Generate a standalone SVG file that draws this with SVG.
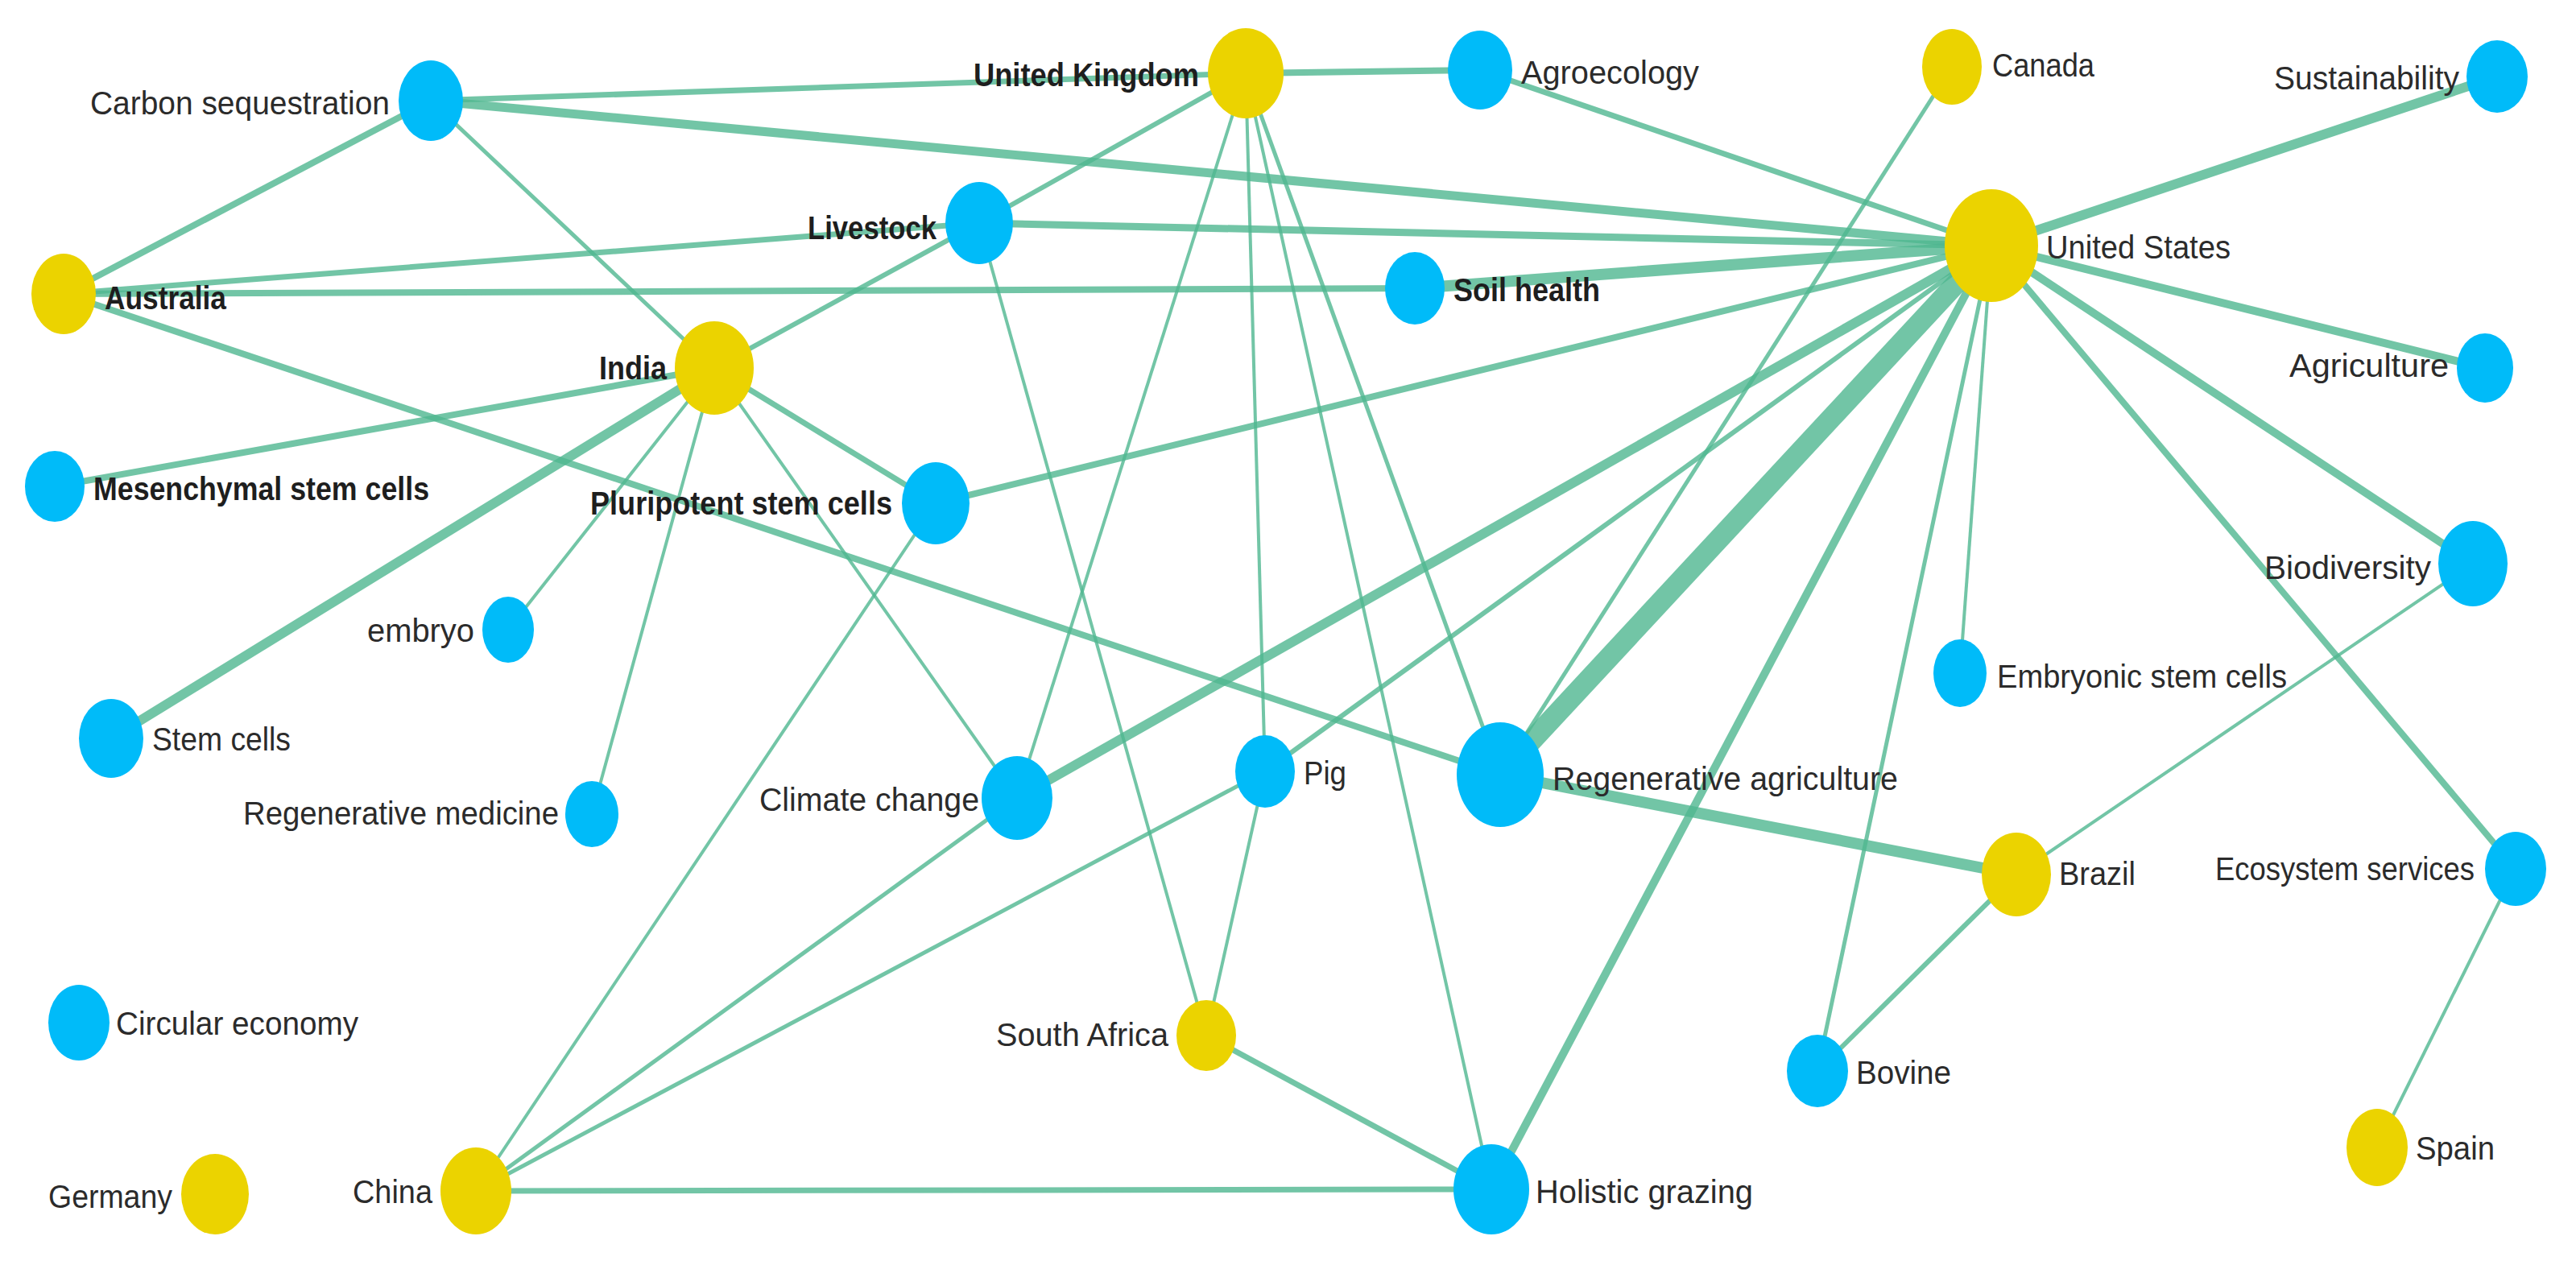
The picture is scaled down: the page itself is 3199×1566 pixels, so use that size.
<svg xmlns="http://www.w3.org/2000/svg" width="3199" height="1566" viewBox="0 0 3199 1566">
<style>
.e{stroke:#4fb690;stroke-opacity:0.8;stroke-linecap:butt;fill:none}
.kb{fill:#00bbf9}
.ky{fill:#ebd300}
text{font-family:"Liberation Sans",Arial,sans-serif;font-size:41px;fill:#2b2b2b}
.b{font-weight:bold;fill:#1e1e1e}
</style>
<rect width="3199" height="1566" fill="#ffffff"/>
<g id="edges">
<line class="e" x1="535" y1="125" x2="1547" y2="91" stroke-width="7"/>
<line class="e" x1="535" y1="125" x2="2473" y2="305" stroke-width="11"/>
<line class="e" x1="535" y1="125" x2="79" y2="365" stroke-width="8"/>
<line class="e" x1="535" y1="125" x2="887" y2="457" stroke-width="5"/>
<line class="e" x1="79" y1="365" x2="1216" y2="277" stroke-width="7"/>
<line class="e" x1="79" y1="365" x2="1757" y2="358" stroke-width="8"/>
<line class="e" x1="79" y1="365" x2="1863" y2="962" stroke-width="8"/>
<line class="e" x1="1547" y1="91" x2="1838" y2="87" stroke-width="8"/>
<line class="e" x1="1547" y1="91" x2="1216" y2="277" stroke-width="6"/>
<line class="e" x1="1547" y1="91" x2="1263" y2="991" stroke-width="4"/>
<line class="e" x1="1547" y1="91" x2="1571" y2="958" stroke-width="4"/>
<line class="e" x1="1547" y1="91" x2="1852" y2="1477" stroke-width="4"/>
<line class="e" x1="1547" y1="91" x2="1863" y2="962" stroke-width="5"/>
<line class="e" x1="1838" y1="87" x2="2473" y2="305" stroke-width="7"/>
<line class="e" x1="1216" y1="277" x2="2473" y2="305" stroke-width="9"/>
<line class="e" x1="1216" y1="277" x2="887" y2="457" stroke-width="6"/>
<line class="e" x1="1216" y1="277" x2="1498" y2="1286" stroke-width="4"/>
<line class="e" x1="1757" y1="358" x2="2473" y2="305" stroke-width="14"/>
<line class="e" x1="3101" y1="95" x2="2473" y2="305" stroke-width="12"/>
<line class="e" x1="3086" y1="457" x2="2473" y2="305" stroke-width="10"/>
<line class="e" x1="3071" y1="700" x2="2473" y2="305" stroke-width="10"/>
<line class="e" x1="3124" y1="1079" x2="2473" y2="305" stroke-width="8"/>
<line class="e" x1="2434" y1="836" x2="2473" y2="305" stroke-width="4"/>
<line class="e" x1="2257" y1="1330" x2="2473" y2="305" stroke-width="5"/>
<line class="e" x1="1852" y1="1477" x2="2473" y2="305" stroke-width="10"/>
<line class="e" x1="1863" y1="962" x2="2473" y2="305" stroke-width="26"/>
<line class="e" x1="1263" y1="991" x2="2473" y2="305" stroke-width="12"/>
<line class="e" x1="1571" y1="958" x2="2473" y2="305" stroke-width="6"/>
<line class="e" x1="1162" y1="625" x2="2473" y2="305" stroke-width="8"/>
<line class="e" x1="2424" y1="83" x2="1863" y2="962" stroke-width="5"/>
<line class="e" x1="1863" y1="962" x2="2504" y2="1086" stroke-width="14"/>
<line class="e" x1="2504" y1="1086" x2="3071" y2="700" stroke-width="4"/>
<line class="e" x1="2504" y1="1086" x2="2257" y2="1330" stroke-width="6"/>
<line class="e" x1="3124" y1="1079" x2="2952" y2="1425" stroke-width="4"/>
<line class="e" x1="887" y1="457" x2="68" y2="604" stroke-width="8"/>
<line class="e" x1="887" y1="457" x2="138" y2="917" stroke-width="12"/>
<line class="e" x1="887" y1="457" x2="631" y2="782" stroke-width="4"/>
<line class="e" x1="887" y1="457" x2="735" y2="1011" stroke-width="4"/>
<line class="e" x1="887" y1="457" x2="1263" y2="991" stroke-width="4"/>
<line class="e" x1="887" y1="457" x2="1162" y2="625" stroke-width="7"/>
<line class="e" x1="591" y1="1479" x2="1162" y2="625" stroke-width="4"/>
<line class="e" x1="591" y1="1479" x2="1263" y2="991" stroke-width="5"/>
<line class="e" x1="591" y1="1479" x2="1571" y2="958" stroke-width="5"/>
<line class="e" x1="591" y1="1479" x2="1852" y2="1477" stroke-width="7"/>
<line class="e" x1="1498" y1="1286" x2="1852" y2="1477" stroke-width="7"/>
<line class="e" x1="1571" y1="958" x2="1498" y2="1286" stroke-width="4"/>
</g>
<g id="n-carbon"><ellipse class="kb" cx="535" cy="125" rx="40" ry="50"/><text x="484" y="142" text-anchor="end" textLength="372" lengthAdjust="spacingAndGlyphs">Carbon sequestration</text></g>
<g id="n-australia"><ellipse class="ky" cx="79" cy="365" rx="40" ry="50"/><text class="b" x="130" y="384" textLength="151" lengthAdjust="spacingAndGlyphs">Australia</text></g>
<g id="n-india"><ellipse class="ky" cx="887" cy="457" rx="49" ry="58"/><text class="b" x="828" y="471" text-anchor="end" textLength="84" lengthAdjust="spacingAndGlyphs">India</text></g>
<g id="n-livestock"><ellipse class="kb" cx="1216" cy="277" rx="42" ry="51"/><text class="b" x="1163" y="297" text-anchor="end" textLength="160" lengthAdjust="spacingAndGlyphs">Livestock</text></g>
<g id="n-uk"><ellipse class="ky" cx="1547" cy="91" rx="47" ry="56"/><text class="b" x="1489" y="107" text-anchor="end" textLength="280" lengthAdjust="spacingAndGlyphs">United Kingdom</text></g>
<g id="n-agroecology"><ellipse class="kb" cx="1838" cy="87" rx="40" ry="49"/><text x="1889" y="104" textLength="221" lengthAdjust="spacingAndGlyphs">Agroecology</text></g>
<g id="n-soilhealth"><ellipse class="kb" cx="1757" cy="358" rx="37" ry="45"/><text class="b" x="1805" y="374" textLength="182" lengthAdjust="spacingAndGlyphs">Soil health</text></g>
<g id="n-canada"><ellipse class="ky" cx="2424" cy="83" rx="37" ry="47"/><text x="2474" y="95" textLength="127" lengthAdjust="spacingAndGlyphs">Canada</text></g>
<g id="n-sustainability"><ellipse class="kb" cx="3101" cy="95" rx="38" ry="45"/><text x="3054" y="111" text-anchor="end" textLength="230" lengthAdjust="spacingAndGlyphs">Sustainability</text></g>
<g id="n-us"><ellipse class="ky" cx="2473" cy="305" rx="58" ry="70"/><text x="2541" y="321" textLength="229" lengthAdjust="spacingAndGlyphs">United States</text></g>
<g id="n-agriculture"><ellipse class="kb" cx="3086" cy="457" rx="35" ry="43"/><text x="3041" y="468" text-anchor="end" textLength="198" lengthAdjust="spacingAndGlyphs">Agriculture</text></g>
<g id="n-mesenchymal"><ellipse class="kb" cx="68" cy="604" rx="37" ry="44"/><text class="b" x="116" y="621" textLength="417" lengthAdjust="spacingAndGlyphs">Mesenchymal stem cells</text></g>
<g id="n-pluripotent"><ellipse class="kb" cx="1162" cy="625" rx="42" ry="51"/><text class="b" x="1108" y="639" text-anchor="end" textLength="375" lengthAdjust="spacingAndGlyphs">Pluripotent stem cells</text></g>
<g id="n-embryo"><ellipse class="kb" cx="631" cy="782" rx="32" ry="41"/><text x="589" y="797" text-anchor="end" textLength="133" lengthAdjust="spacingAndGlyphs">embryo</text></g>
<g id="n-stemcells"><ellipse class="kb" cx="138" cy="917" rx="40" ry="49"/><text x="189" y="932" textLength="172" lengthAdjust="spacingAndGlyphs">Stem cells</text></g>
<g id="n-regenmed"><ellipse class="kb" cx="735" cy="1011" rx="33" ry="41"/><text x="694" y="1024" text-anchor="end" textLength="392" lengthAdjust="spacingAndGlyphs">Regenerative medicine</text></g>
<g id="n-climate"><ellipse class="kb" cx="1263" cy="991" rx="44" ry="52"/><text x="1216" y="1007" text-anchor="end" textLength="273" lengthAdjust="spacingAndGlyphs">Climate change</text></g>
<g id="n-pig"><ellipse class="kb" cx="1571" cy="958" rx="37" ry="45"/><text x="1619" y="974" textLength="53" lengthAdjust="spacingAndGlyphs">Pig</text></g>
<g id="n-regenag"><ellipse class="kb" cx="1863" cy="962" rx="54" ry="65"/><text x="1928" y="981" textLength="429" lengthAdjust="spacingAndGlyphs">Regenerative agriculture</text></g>
<g id="n-biodiversity"><ellipse class="kb" cx="3071" cy="700" rx="43" ry="53"/><text x="3019" y="719" text-anchor="end" textLength="207" lengthAdjust="spacingAndGlyphs">Biodiversity</text></g>
<g id="n-embryonic"><ellipse class="kb" cx="2434" cy="836" rx="33" ry="42"/><text x="2480" y="854" textLength="360" lengthAdjust="spacingAndGlyphs">Embryonic stem cells</text></g>
<g id="n-circular"><ellipse class="kb" cx="98" cy="1270" rx="38" ry="47"/><text x="144" y="1285" textLength="301" lengthAdjust="spacingAndGlyphs">Circular economy</text></g>
<g id="n-germany"><ellipse class="ky" cx="267" cy="1483" rx="42" ry="50"/><text x="214" y="1500" text-anchor="end" textLength="154" lengthAdjust="spacingAndGlyphs">Germany</text></g>
<g id="n-china"><ellipse class="ky" cx="591" cy="1479" rx="44" ry="54"/><text x="537" y="1494" text-anchor="end" textLength="99" lengthAdjust="spacingAndGlyphs">China</text></g>
<g id="n-southafrica"><ellipse class="ky" cx="1498" cy="1286" rx="37" ry="44"/><text x="1451" y="1299" text-anchor="end" textLength="214" lengthAdjust="spacingAndGlyphs">South Africa</text></g>
<g id="n-holistic"><ellipse class="kb" cx="1852" cy="1477" rx="47" ry="56"/><text x="1907" y="1494" textLength="270" lengthAdjust="spacingAndGlyphs">Holistic grazing</text></g>
<g id="n-brazil"><ellipse class="ky" cx="2504" cy="1086" rx="43" ry="52"/><text x="2557" y="1099" textLength="95" lengthAdjust="spacingAndGlyphs">Brazil</text></g>
<g id="n-ecosystem"><ellipse class="kb" cx="3124" cy="1079" rx="38" ry="46"/><text x="3073" y="1093" text-anchor="end" textLength="322" lengthAdjust="spacingAndGlyphs">Ecosystem services</text></g>
<g id="n-bovine"><ellipse class="kb" cx="2257" cy="1330" rx="38" ry="45"/><text x="2305" y="1346" textLength="118" lengthAdjust="spacingAndGlyphs">Bovine</text></g>
<g id="n-spain"><ellipse class="ky" cx="2952" cy="1425" rx="38" ry="48"/><text x="3000" y="1440" textLength="98" lengthAdjust="spacingAndGlyphs">Spain</text></g>
</svg>
